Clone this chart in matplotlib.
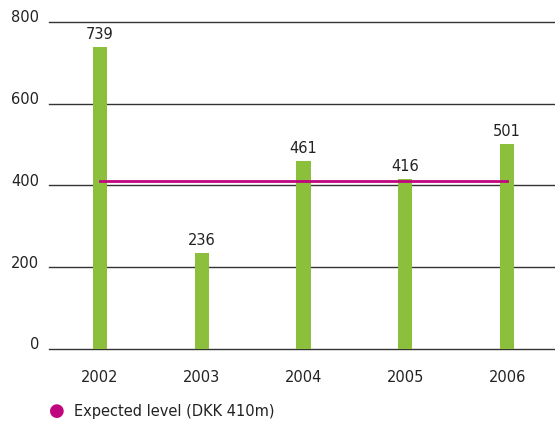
import matplotlib
matplotlib.use("Agg")
import matplotlib.pyplot as plt
from matplotlib.transforms import ScaledTranslation

years = ["2002", "2003", "2004", "2005", "2006"]
values = [739, 236, 461, 416, 501]
expected_level = 410
y_ticks = [0, 200, 400, 600, 800]
legend_label = "Expected level (DKK 410m)"

bar_color = "#8bbf3c"
line_color = "#c0067f"
text_color = "#222222"

fig = plt.figure(figsize=(5.55, 4.23), dpi=100)
ax = fig.add_axes([0.0883, 0.175, 0.9117, 0.773])

x = list(range(len(years)))
ax.set_ylim(0, 800)
ax.set_xlim(-0.5, 4.47)

for t in y_ticks:
    ax.axhline(t, color="#333333", lw=1.0, zorder=1, clip_on=False)

ax.bar(x, values, width=0.14, color=bar_color, zorder=2)
for xi, v in zip(x, values):
    ax.text(xi, v + 12, str(v), ha="center", va="bottom", fontsize=10.5, color=text_color)

ax.plot([x[0], x[-1]], [expected_level, expected_level], color=line_color, lw=2, zorder=3)

for s in ax.spines.values():
    s.set_visible(False)
ax.set_yticks(y_ticks)
ax.set_yticklabels([str(t) for t in y_ticks], fontsize=10.5, color=text_color)
ax.tick_params(axis="y", length=0, pad=7)
ax.set_xticks(x)
ax.set_xticklabels(years, fontsize=10.5, color=text_color)
ax.tick_params(axis="x", length=0, pad=15)
shift = ScaledTranslation(0, 4 / 100, fig.dpi_scale_trans)
for lbl in ax.get_yticklabels():
    lbl.set_verticalalignment("center")
    lbl.set_transform(lbl.get_transform() + shift)

fig.text(57 / 555, 1 - 411 / 423, "\u25cf", color=line_color, fontsize=13, ha="center", va="center")
fig.text(74 / 555, 1 - 411 / 423, legend_label, color=text_color, fontsize=10.5, ha="left", va="center")

fig.savefig("out.png", dpi=100)
